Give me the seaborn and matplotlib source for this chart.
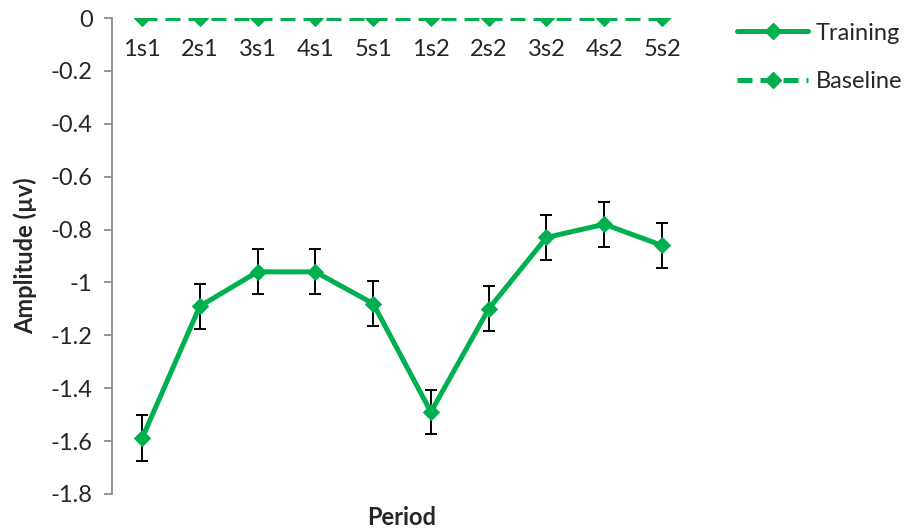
import matplotlib
matplotlib.use("Agg")
import matplotlib.pyplot as plt
import seaborn as sns
import pandas as pd
import numpy as np
from matplotlib.lines import Line2D

periods = ["1s1", "2s1", "3s1", "4s1", "5s1", "1s2", "2s2", "3s2", "4s2", "5s2"]
training = [-1.59, -1.09, -0.96, -0.96, -1.08, -1.49, -1.10, -0.83, -0.78, -0.86]
training_err = [0.087, 0.085, 0.085, 0.085, 0.086, 0.085, 0.085, 0.086, 0.085, 0.085]
baseline = [0, 0, 0, 0, 0, 0, 0, 0, 0, 0]
y_ticks = [0, -0.2, -0.4, -0.6, -0.8, -1, -1.2, -1.4, -1.6, -1.8]

sns.set_theme(style="white")
plt.rcParams["font.family"] = ["Lato", "DejaVu Sans"]

green = "#00B050"
fs = 17
pos = np.arange(len(periods))
df = pd.DataFrame({"pos": np.concatenate([pos, pos]),
                   "value": training + baseline,
                   "series": ["Training"] * len(pos) + ["Baseline"] * len(pos)})

fig = plt.figure(figsize=(9.06, 5.30), dpi=100)
ax = fig.add_axes([0.1236, 0.068, 0.639, 0.898])

ax.errorbar(pos, training, yerr=training_err, fmt="none", ecolor="black",
            elinewidth=1.4, capsize=4.5, capthick=1.4, zorder=2)
sns.lineplot(data=df, x="pos", y="value", hue="series", style="series",
             palette={"Training": green, "Baseline": green},
             dashes={"Training": "", "Baseline": (3, 1.6)},
             markers={"Training": "D", "Baseline": "D"}, markersize=8,
             markeredgecolor=green, linewidth=3.6, ax=ax, zorder=3, legend=False)

ax.set_xlim(-0.52, 9.5)
ax.set_ylim(-1.8, 0)
ax.set_yticks(y_ticks)
ax.set_yticklabels([f"{t:g}" for t in y_ticks])
ax.set_xticks(pos)
ax.set_xticklabels(periods)

for s in ["top", "right"]:
    ax.spines[s].set_visible(False)
ax.spines["bottom"].set_position(("data", 0))
ax.spines["bottom"].set_visible(False)
ax.spines["left"].set_color("#8c8c8c")
ax.spines["left"].set_linewidth(1.3)

ax.tick_params(axis="y", which="major", direction="out", length=6, width=1.3,
               color="#8c8c8c", labelsize=fs, pad=8, left=True)
ax.tick_params(axis="x", length=0, labelsize=fs, pad=15)

ax.set_xlabel("Period", fontsize=fs, fontweight="bold")
ax.xaxis.set_label_coords(0.5, -0.025)
ax.set_ylabel("Amplitude (µv)", fontsize=fs, fontweight="bold", labelpad=10)

handles = [Line2D([], [], color=green, lw=3.6, marker="D", markersize=8),
           Line2D([], [], color=green, lw=3.6, ls=(0, (3, 1.6)), marker="D", markersize=8)]
fig.legend(handles, ["Training", "Baseline"], loc="upper left",
           bbox_to_anchor=(0.798, 0.984), frameon=False, fontsize=fs,
           handlelength=3.0, labelspacing=1.17, handletextpad=0.34,
           borderaxespad=0.2)

fig.savefig("out.png", dpi=100)
